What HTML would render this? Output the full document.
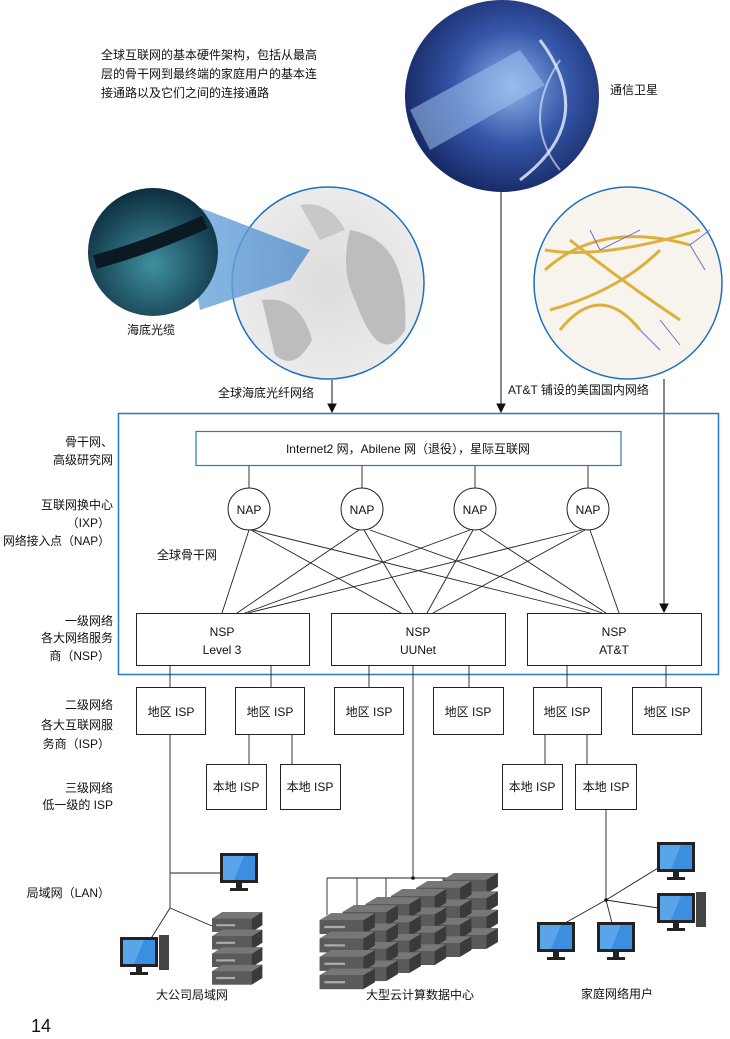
<!DOCTYPE html>
<html><head><meta charset="utf-8"><style>
body{margin:0;background:#fff;}
svg{display:block;font-family:"Liberation Sans","Noto Sans CJK SC",sans-serif;}
</style></head><body>
<svg width="730" height="1039" viewBox="0 0 730 1039" xmlns="http://www.w3.org/2000/svg">
<defs>
<radialGradient id="sat" cx="0.55" cy="0.45" r="0.6"><stop offset="0" stop-color="#8fb3ea"/><stop offset="0.5" stop-color="#3556a8"/><stop offset="1" stop-color="#14245e"/></radialGradient>
<radialGradient id="sea" cx="0.5" cy="0.6" r="0.6"><stop offset="0" stop-color="#3f8fa0"/><stop offset="1" stop-color="#0d2e3e"/></radialGradient>
<radialGradient id="world" cx="0.5" cy="0.5" r="0.6"><stop offset="0" stop-color="#dcdcdc"/><stop offset="1" stop-color="#eeeeee"/></radialGradient>
<linearGradient id="cone" x1="0" x2="1"><stop offset="0" stop-color="#7fb3e0" stop-opacity="0.9"/><stop offset="1" stop-color="#3d82c8" stop-opacity="0.7"/></linearGradient>
<g id="mon"><rect x="0" y="0" width="38" height="30" fill="#222"/><rect x="3" y="3" width="32" height="24" fill="#3b8ee0"/><path d="M3,3 L24,3 L14,27 L3,27Z" fill="#6fb3f0" opacity="0.6"/><rect x="16" y="30" width="6" height="5" fill="#222"/><rect x="10" y="35" width="18" height="3" fill="#222"/></g>
<g id="srv"><path d="M0,6 L10,0 L48,0 L48,12 L38,18 L0,18Z" fill="#3a3a3a"/><rect x="0" y="6" width="38" height="12" fill="#5a5a5a"/><path d="M0,6 L10,0 L48,0 L38,6Z" fill="#777"/><rect x="4" y="11" width="18" height="2" fill="#aaa"/></g>
<g id="rack"><use href="#srv" y="0"/><use href="#srv" y="16"/><use href="#srv" y="32"/><use href="#srv" y="48"/></g>
</defs>

<g font-size="12" fill="#111">
<text x="101" y="59">全球互联网的基本硬件架构，包括从最高</text>
<text x="101" y="78">层的骨干网到最终端的家庭用户的基本连</text>
<text x="101" y="97">接通路以及它们之间的连接通路</text>
<text x="610" y="94">通信卫星</text>
<text x="127" y="334">海底光缆</text>
<text x="218" y="397">全球海底光纤网络</text>
<text x="508" y="394">AT&amp;T 铺设的美国国内网络</text>
</g>

<ellipse cx="502" cy="96" rx="97" ry="96" fill="url(#sat)"/>
<path d="M410,110 L520,50 L545,85 L430,150Z" fill="#9fc2ee" opacity="0.55"/>
<path d="M540,40 Q600,120 520,180" stroke="#e8f0ff" stroke-width="3" fill="none" opacity="0.8"/>
<path d="M560,60 Q520,120 560,170" stroke="#e8f0ff" stroke-width="2" fill="none" opacity="0.6"/>
<ellipse cx="328" cy="283" rx="96" ry="96" fill="url(#world)" stroke="#1f6fc0" stroke-width="1.5"/>
<path d="M350,230 Q410,240 405,330 Q380,370 355,300 Q340,270 350,230Z" fill="#bdbdbd"/>
<path d="M262,300 Q300,295 312,340 Q295,372 275,355Z" fill="#bdbdbd"/>
<path d="M300,205 Q330,200 345,230 L320,240Z" fill="#c8c8c8"/>
<path d="M180,200 L310,250 L290,280 L200,310Z" fill="url(#cone)"/>
<ellipse cx="153" cy="252" rx="65" ry="64" fill="url(#sea)"/>
<path d="M95,262 Q150,247 205,222" stroke="#0b1a22" stroke-width="14" fill="none"/>
<ellipse cx="628" cy="283" rx="94" ry="96" fill="#f6f4ec" stroke="#1f6fc0" stroke-width="1.5"/>
<g stroke="#d9a520" stroke-width="3" fill="none" opacity="0.85">
<path d="M545,270 Q600,220 690,245"/><path d="M550,310 Q620,290 660,250"/><path d="M570,240 Q620,280 680,320"/><path d="M560,330 Q600,280 640,330"/><path d="M545,250 Q600,260 700,230"/>
</g>
<g stroke="#7070c0" stroke-width="1" fill="none"><path d="M600,250 L640,230 M690,245 L710,230 M690,245 L705,270 M640,330 L660,350 M600,250 L590,230 M660,320 L680,345"/></g>

<g stroke="#111" stroke-width="1" fill="#111">
<line x1="332" y1="380" x2="332" y2="406"/><path d="M328,404 L336,404 L332,412Z"/>
<line x1="501" y1="192" x2="501" y2="406"/><path d="M497,404 L505,404 L501,412Z"/>
<line x1="664" y1="379" x2="664" y2="606"/><path d="M660,604 L668,604 L664,612Z"/>
</g>

<rect x="118.5" y="413.5" width="600" height="261" fill="none" stroke="#2a78c0" stroke-width="1.5"/>
<rect x="196" y="431.5" width="425" height="34" fill="#fff" stroke="#2a78c0" stroke-width="1.2"/>
<text x="408" y="453" font-size="12" text-anchor="middle" fill="#111">Internet2 网，Abilene 网（退役），星际互联网</text>

<g stroke="#222" stroke-width="0.9" fill="none">
<line x1="249" y1="466" x2="249" y2="488"/><line x1="362" y1="466" x2="362" y2="488"/><line x1="475" y1="466" x2="475" y2="488"/><line x1="588" y1="466" x2="588" y2="488"/>
<line x1="249" y1="530" x2="222" y2="613"/><line x1="251" y1="530" x2="401" y2="613"/><line x1="253" y1="530" x2="590" y2="613"/>
<line x1="359" y1="530" x2="237" y2="613"/><line x1="364" y1="530" x2="413" y2="613"/><line x1="370" y1="530" x2="602" y2="613"/>
<line x1="470" y1="530" x2="245" y2="613"/><line x1="473" y1="530" x2="427" y2="613"/><line x1="480" y1="530" x2="606" y2="613"/>
<line x1="582" y1="530" x2="248" y2="613"/><line x1="585" y1="530" x2="433" y2="613"/><line x1="590" y1="530" x2="619" y2="613"/>
</g>
<g stroke="#222" stroke-width="1" fill="#fff">
<ellipse cx="249" cy="509" rx="21" ry="21"/><ellipse cx="362" cy="509" rx="21" ry="21"/><ellipse cx="475" cy="509" rx="21" ry="21"/><ellipse cx="588" cy="509" rx="21" ry="21"/>
</g>
<g font-size="12" text-anchor="middle" fill="#111">
<text x="249" y="514">NAP</text><text x="362" y="514">NAP</text><text x="475" y="514">NAP</text><text x="588" y="514">NAP</text>
</g>
<text x="157" y="559" font-size="12" fill="#111">全球骨干网</text>

<g stroke="#222" stroke-width="1" fill="#fff">
<rect x="136.5" y="613.5" width="173" height="52"/><rect x="331.5" y="613.5" width="174" height="52"/><rect x="527.5" y="613.5" width="174" height="52"/>
</g>
<g font-size="12" text-anchor="middle" fill="#111">
<text x="222" y="636">NSP</text><text x="222" y="654">Level 3</text>
<text x="418" y="636">NSP</text><text x="418" y="654">UUNet</text>
<text x="614" y="636">NSP</text><text x="614" y="654">AT&amp;T</text>
</g>

<g stroke="#222" stroke-width="0.9" fill="none">
<line x1="170" y1="666" x2="170" y2="687"/><line x1="271" y1="666" x2="271" y2="687"/>
<line x1="369" y1="666" x2="369" y2="687"/><line x1="469" y1="666" x2="469" y2="687"/>
<line x1="567" y1="666" x2="567" y2="687"/><line x1="666" y1="666" x2="666" y2="687"/>
<line x1="413" y1="666" x2="413" y2="878"/>
<line x1="249" y1="735" x2="249" y2="764"/><line x1="292" y1="735" x2="292" y2="764"/>
<line x1="545" y1="735" x2="545" y2="764"/><line x1="587" y1="735" x2="587" y2="764"/>
<line x1="170" y1="735" x2="170" y2="908"/>
<line x1="170" y1="873" x2="222" y2="873"/>
<line x1="170" y1="908" x2="150" y2="940"/><line x1="170" y1="908" x2="212" y2="926"/>
<line x1="327" y1="878" x2="474" y2="878"/>
<line x1="327" y1="878" x2="327" y2="915"/><line x1="357" y1="878" x2="357" y2="908"/><line x1="386" y1="878" x2="386" y2="902"/><line x1="443" y1="878" x2="443" y2="890"/><line x1="474" y1="878" x2="474" y2="884"/>
<line x1="606" y1="810" x2="606" y2="900"/>
<line x1="606" y1="900" x2="663" y2="865"/><line x1="606" y1="900" x2="658" y2="908"/><line x1="606" y1="900" x2="565" y2="923"/><line x1="606" y1="900" x2="612" y2="923"/>
</g>
<circle cx="413" cy="878" r="1.8" fill="#111"/><circle cx="606" cy="900" r="1.8" fill="#111"/>

<g stroke="#222" stroke-width="1" fill="#fff">
<rect x="136.5" y="687.5" width="69" height="47"/><rect x="235.5" y="687.5" width="69" height="47"/><rect x="334.5" y="687.5" width="69" height="47"/><rect x="433.5" y="687.5" width="70" height="47"/><rect x="533.5" y="687.5" width="68" height="47"/><rect x="632.5" y="687.5" width="69" height="47"/>
<rect x="206.5" y="764.5" width="60" height="45"/><rect x="280.5" y="764.5" width="60" height="45"/><rect x="502.5" y="764.5" width="60" height="45"/><rect x="575.5" y="764.5" width="61" height="45"/>
</g>
<g font-size="12" text-anchor="middle" fill="#111">
<text x="171" y="716">地区 ISP</text><text x="270" y="716">地区 ISP</text><text x="369" y="716">地区 ISP</text><text x="468" y="716">地区 ISP</text><text x="567" y="716">地区 ISP</text><text x="667" y="716">地区 ISP</text>
<text x="236" y="791">本地 ISP</text><text x="310" y="791">本地 ISP</text><text x="532" y="791">本地 ISP</text><text x="606" y="791">本地 ISP</text>
</g>

<g font-size="12" text-anchor="end" fill="#111">
<text x="113" y="446">骨干网、</text><text x="113" y="464">高级研究网</text>
<text x="113" y="509">互联网换中心</text><text x="110" y="527">（IXP）</text><text x="110" y="545" textLength="107" lengthAdjust="spacingAndGlyphs">网络接入点（NAP）</text>
<text x="113" y="625">一级网络</text><text x="113" y="642">各大网络服务</text><text x="110" y="660">商（NSP）</text>
<text x="113" y="709">二级网络</text><text x="113" y="729">各大互联网服</text><text x="110" y="748">务商（ISP）</text>
<text x="113" y="792">三级网络</text><text x="113" y="809">低一级的 ISP</text>
<text x="110" y="897">局域网（LAN）</text>
</g>

<use href="#mon" x="220" y="853"/>
<use href="#mon" x="120" y="937"/><rect x="159" y="935" width="10" height="35" fill="#444"/>
<g transform="translate(212,912) scale(1.05,1.1)"><use href="#rack"/></g>
<g transform="translate(0,-16) scale(1.15)">
<use href="#rack" x="385" y="773"/><use href="#rack" x="362" y="780"/><use href="#rack" x="340" y="787"/><use href="#rack" x="318" y="794"/><use href="#rack" x="298" y="801"/><use href="#rack" x="278" y="808"/>
</g>
<use href="#mon" x="657" y="842"/>
<use href="#mon" x="657" y="893"/><rect x="696" y="892" width="10" height="35" fill="#444"/>
<use href="#mon" x="537" y="922"/><use href="#mon" x="597" y="922"/>

<g font-size="12" text-anchor="middle" fill="#111">
<text x="192" y="999">大公司局域网</text><text x="420" y="999">大型云计算数据中心</text><text x="617" y="998">家庭网络用户</text>
</g>
<text x="31" y="1032" font-size="18" fill="#111">14</text>
</svg>
</body></html>
